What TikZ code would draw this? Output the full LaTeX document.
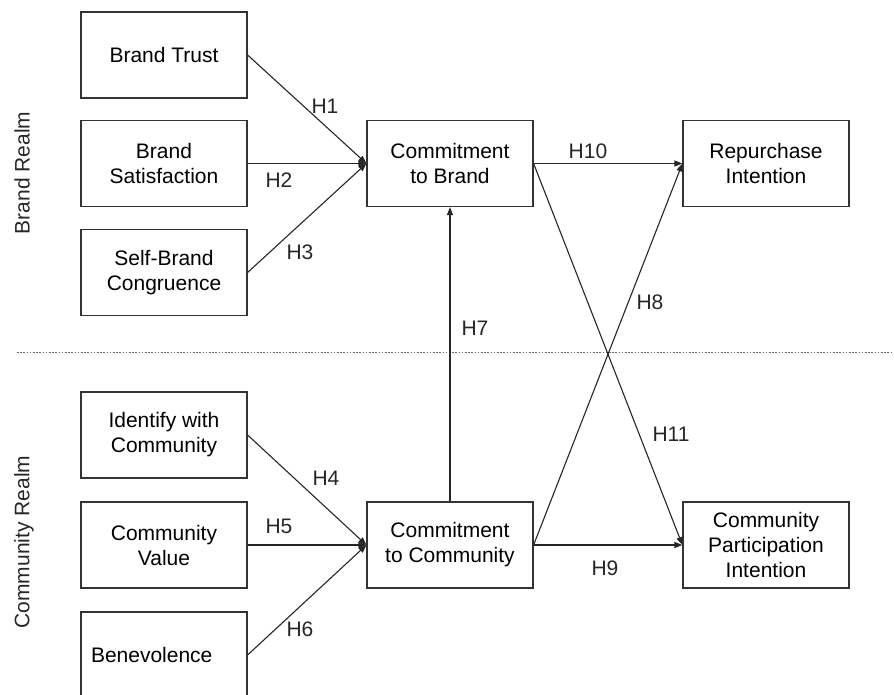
\documentclass[tikz,border=0pt]{standalone}
\usepackage{fontspec}
\setmainfont{Liberation Sans}
\usetikzlibrary{arrows.meta}
\begin{document}
\begin{tikzpicture}[x=1pt,y=-1pt,
  box/.style={draw=black!80, line width=1.2pt, minimum width=166pt, minimum height=86pt,
    align=center, inner sep=0pt, font=\fontsize{21}{25}\selectfont},
  lbl/.style={font=\fontsize{21}{25}\selectfont, inner sep=0pt, text=black!85},
  arr/.style={draw=black!85, line width=1.1pt, -{Triangle[length=8pt,width=6pt]}},
  sep/.style={draw=black!60, line width=0.9pt, dash pattern=on 1.6pt off 1.6pt},
  ]
\useasboundingbox (0,0) rectangle (894,695);
\clip (0,0) rectangle (894,695);

% separator
\coordinate (dl) at (17,352);
\coordinate (dr) at (894,352);
\draw[sep] (dl) -- (dr);

% realm labels
\node[lbl, rotate=90] (brealm) at (22,173) {Brand Realm};
\node[lbl, rotate=90] (crealm) at (24,542) {Community Realm};

% boxes
\node[box] (bt) at (164,55) {Brand Trust};
\node[box] (bs) at (164,163.5) {Brand\\Satisfaction};
\node[box] (sb) at (164,272.5) {Self-Brand\\Congruence};
\node[box] (cb) at (450,163.5) {Commitment\\to Brand};
\node[box] (rp) at (766,163.5) {Repurchase\\Intention};
\node[box] (iw) at (164,435) {Identify with\\Community};
\node[box] (cv) at (164,545) {Community\\Value};
\node[box, align=left, text width=146pt, inner xsep=10pt] (bv) at (164,655) {Benevolence};
\node[box] (cc) at (450,545) {Commitment\\to Community};
\node[box] (cp) at (766,545) {Community\\Participation\\Intention};

% arrows
\draw[arr] (bt.east) -- (cb.west);
\draw[arr] (bs.east) -- (cb.west);
\draw[arr] (sb.east) -- (cb.west);
\draw[arr] (iw.east) -- (cc.west);
\draw[arr] (cv.east) -- (cc.west);
\draw[arr] (bv.east) -- (cc.west);
\draw[arr] (cc.north) -- (cb.south);
\draw[arr] (cb.east) -- (rp.west);
\draw[arr] (cc.east) -- (rp.west);
\draw[arr] (cb.east) -- (cp.west);
\draw[arr] (cc.east) -- (cp.west);

% hypothesis labels
\node[lbl] (h1) at (325,106) {H1};
\node[lbl] (h2) at (279,180) {H2};
\node[lbl] (h3) at (300,252) {H3};
\node[lbl] (h4) at (326,478) {H4};
\node[lbl] (h5) at (279,526) {H5};
\node[lbl] (h6) at (300,629) {H6};
\node[lbl] (h7) at (475,328) {H7};
\node[lbl] (h8) at (650,302) {H8};
\node[lbl] (h9) at (605,568) {H9};
\node[lbl] (h10) at (588,151) {H10};
\node[lbl] (h11) at (671,434) {H11};
\end{tikzpicture}
\end{document}
